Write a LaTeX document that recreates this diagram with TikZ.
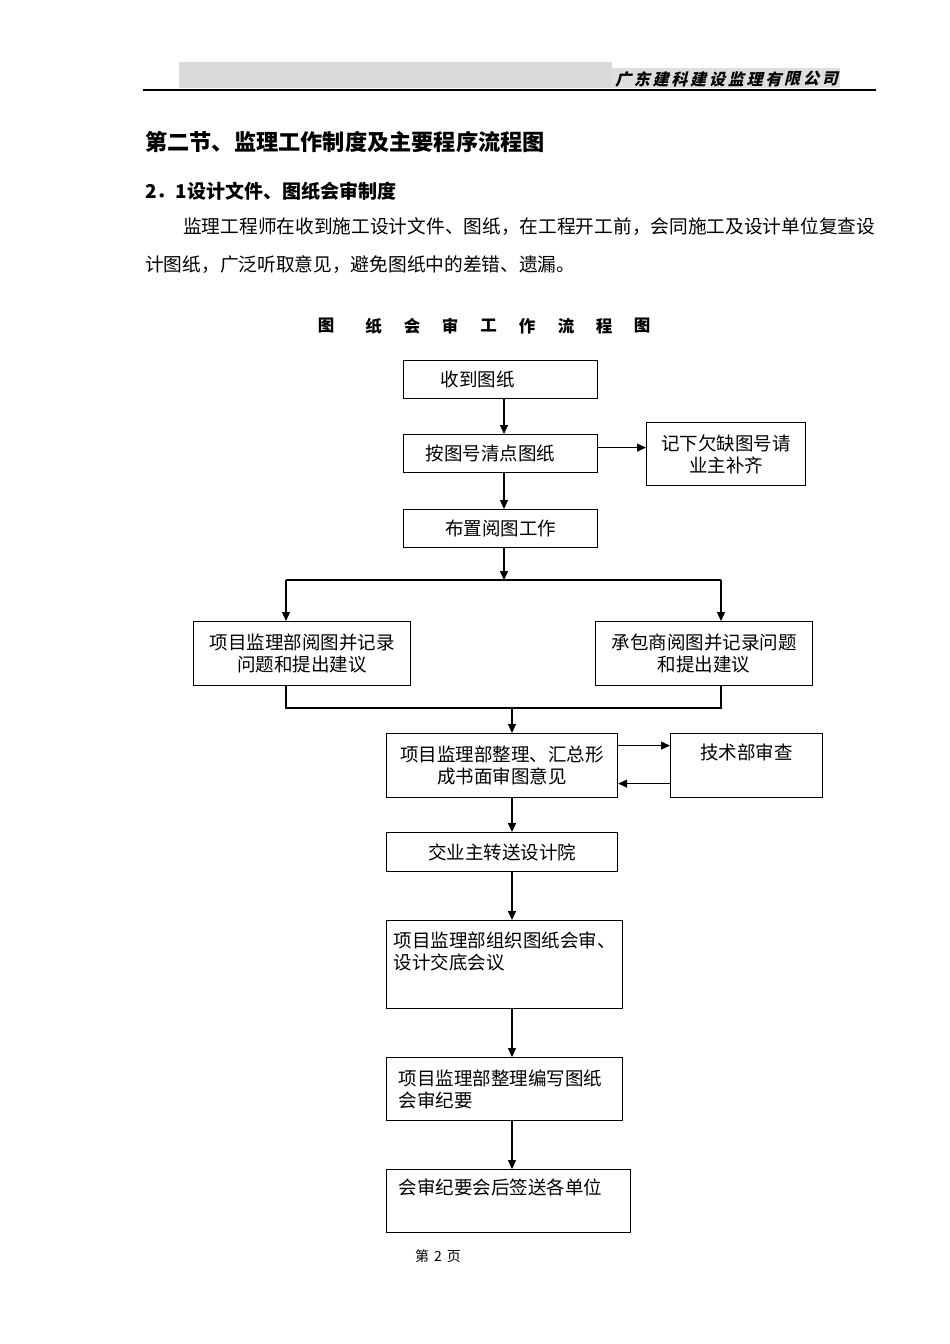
\documentclass[tikz,border=0pt]{standalone}
\usepackage{fontspec}
\setmainfont{Noto Sans CJK SC}
\newfontfamily\cjk{Noto Sans CJK SC}
\newfontfamily\cjkslant[FakeSlant=0.25]{Noto Sans CJK SC}
\usetikzlibrary{arrows.meta}
\begin{document}
\begin{tikzpicture}[x=1pt,y=-1pt,
  box/.style={draw, line width=1.2pt, anchor=north west, inner ysep=0pt,
    font=\cjk\fontsize{18.5}{22}\selectfont},
  arr/.style={line width=1.2pt, -{Triangle[length=9pt,width=8pt]}},
  ln/.style={line width=1.2pt},
  txt/.style={anchor=west, inner sep=0pt}]
\useasboundingbox (0,0) rectangle (950,1344);
\fill[white] (0,0) rectangle (950,1344);
% header
\fill[black!15] (179,62) rectangle (612,88);
\fill[black!13] (612,68) rectangle (840,88);
\draw[line width=2pt] (143,90) -- (876,90);
\foreach \c [count=\i] in {广,东,建,科,建,设,监,理,有,限,公,司}
  \node[inner sep=0pt, font=\cjkslant\bfseries\fontsize{16}{16}\selectfont] (hd\i) at ({614+9+(\i-1)*18.8},79) {\c};
% headings
\node[txt, font=\cjk\bfseries\fontsize{22.2}{24}\selectfont] (title) at (145,142) {第二节、监理工作制度及主要程序流程图};
\node[txt, font=\cjk\bfseries\fontsize{19}{22}\selectfont] (sub) at (145,191) {2．1设计文件、图纸会审制度};
\node[txt, font=\cjk\fontsize{18.7}{22}\selectfont] (p1) at (183,227) {监理工程师在收到施工设计文件、图纸，在工程开工前，会同施工及设计单位复查设};
\node[txt, font=\cjk\fontsize{18.7}{22}\selectfont] (p2) at (145,265) {计图纸，广泛听取意见，避免图纸中的差错、遗漏。};
% chart title
\foreach \c/\x [count=\i] in {图/326,纸/373.5,会/412,审/450,工/488.5,作/527,流/566,程/604,图/642}
  \node[inner sep=0pt, font=\cjk\bfseries\fontsize{16.5}{18}\selectfont] (ct\i) at (\x,326) {\c};
% boxes
\node[box, minimum width=194pt, minimum height=38pt, text width=120pt, inner xsep=37pt, align=left] (b1) at (403,360) {收到图纸};
\node[box, minimum width=194pt, minimum height=38pt, text width=150pt, inner xsep=22pt, align=left] (b2) at (403,434) {按图号清点图纸};
\node[box, minimum width=159pt, minimum height=63pt, text width=143pt, inner xsep=8pt, align=center] (b3) at (646,422) {记下欠缺图号请\\业主补齐};
\node[box, minimum width=194pt, minimum height=38pt, text width=178pt, inner xsep=8pt, align=center] (b4) at (403,509) {布置阅图工作};
\node[box, minimum width=217pt, minimum height=64pt, text width=201pt, inner xsep=8pt, align=center] (b6) at (193,621) {项目监理部阅图并记录\\问题和提出建议};
\node[box, minimum width=217pt, minimum height=64pt, text width=201pt, inner xsep=8pt, align=center] (b7) at (595,621) {承包商阅图并记录问题\\和提出建议};
\node[box, minimum width=231pt, minimum height=64pt, text width=215pt, inner xsep=8pt, align=center] (b9) at (386,733) {项目监理部整理、汇总形\\成书面审图意见};
\node[box, minimum width=152pt, minimum height=64pt, text width=136pt, inner xsep=8pt, align=center] (b10) at (670,733) {技术部审查\\\strut};
\node[box, minimum width=231pt, minimum height=39pt, text width=215pt, inner xsep=8pt, align=center] (b12) at (386,832) {交业主转送设计院};
\node[box, minimum width=236pt, minimum height=88pt, text width=222pt, inner xsep=7pt, align=left] (b14) at (386,920) {项目监理部组织图纸会审、\\设计交底会议\\\strut};
\node[box, minimum width=236pt, minimum height=63pt, text width=212pt, inner xsep=12pt, align=left] (b16) at (386,1057) {项目监理部整理编写图纸\\会审纪要};
\node[box, minimum width=244pt, minimum height=63pt, text width=220pt, inner xsep=12pt, align=left] (b18) at (386,1169) {会审纪要会后签送各单位\\\strut};
% page number
\node[inner sep=0pt, font=\cjk\fontsize{14}{16}\selectfont] (pg) at (438,1256) {第\hspace{5pt}2\hspace{5pt}页};
% connectors
\coordinate (sp1) at (504,0);
\coordinate (spine) at (512,0);
\coordinate (s) at (504,580);
\coordinate (sl) at (286,580);
\coordinate (sr) at (721,580);
\coordinate (jl) at (286,708);
\coordinate (jr) at (721,708);
\coordinate (jm) at (512,708);
\draw[arr] (b1.south -| sp1) -- (b2.north -| sp1);
\draw[arr] ([yshift=6pt]b2.east) -- ([yshift=6pt]b2.east -| b3.west);
\draw[arr] (b2.south -| sp1) -- (b4.north -| sp1);
\draw[arr] (b4.south -| sp1) -- (s);
\draw[ln] (sl) -- (sr);
\draw[arr] (sl) -- (sl |- b6.north);
\draw[arr] (sr) -- (sr |- b7.north);
\draw[ln] (b6.south -| jl) -- (jl) -- (jr) -- (b7.south -| jr);
\draw[arr] (jm) -- (b9.north -| jm);
\draw[arr] ([yshift=20pt]b9.east) -- ([yshift=20pt]b9.east -| b10.west);
\draw[arr] ([yshift=-18pt]b10.west) -- ([yshift=-18pt]b10.west -| b9.east);
\draw[arr] (b9.south -| spine) -- (b12.north -| spine);
\draw[arr] (b12.south -| spine) -- (b14.north -| spine);
\draw[arr] (b14.south -| spine) -- (b16.north -| spine);
\draw[arr] (b16.south -| spine) -- (b18.north -| spine);
\end{tikzpicture}
\end{document}
